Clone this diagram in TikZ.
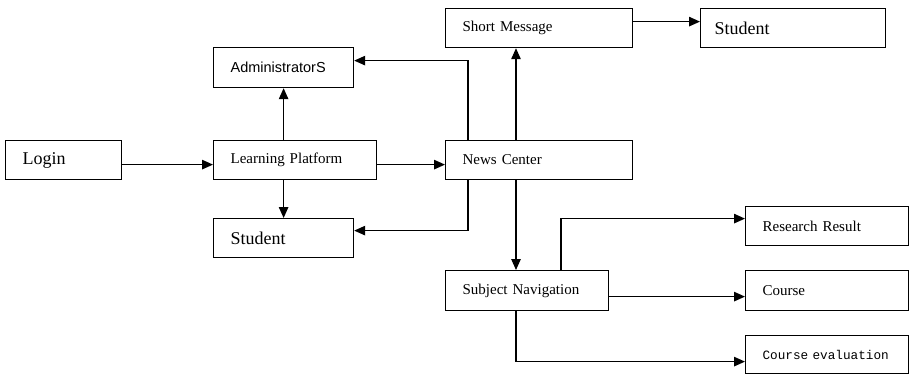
\documentclass[tikz,border=0pt]{standalone}
\usepackage{fontspec}
\setmainfont{Liberation Serif}
\newfontfamily\sansf{Liberation Sans}
\newfontfamily\monof{Liberation Mono}
\usetikzlibrary{arrows.meta}
\tikzset{
  box/.style={draw, line width=1.2bp, rectangle, anchor=north west, inner xsep=17bp, inner ysep=0bp, align=left, font=\fontsize{15bp}{18bp}\selectfont},
  big/.style={font=\fontsize{18bp}{21bp}\selectfont},
  arr/.style={line width=1.2bp, -{Triangle[length=11bp,width=9.5bp]}}
}
\begin{document}
\begin{tikzpicture}[x=1bp,y=-1bp]
\useasboundingbox (0,0) rectangle (910,374);
\node[box,big, minimum width=116bp, minimum height=39bp, text width=82bp] (login) at (5,140) {Login};
\node[box, minimum width=163bp, minimum height=39bp, text width=129bp] (lp) at (213,140) {Learning Platform};
\node[box, font=\sansf\fontsize{14.5bp}{17bp}\selectfont, minimum width=140bp, minimum height=40bp, text width=106bp] (admin) at (213,47) {AdministratorS};
\node[box,big, minimum width=140bp, minimum height=39bp, text width=106bp] (stl) at (213,218) {Student};
\node[box, minimum width=187bp, minimum height=39bp, text width=153bp] (sm) at (445,8) {Short Message};
\node[box,big, minimum width=185bp, minimum height=39bp, text width=157bp, inner xsep=14bp] (str) at (700,8) {Student};
\node[box, minimum width=187bp, minimum height=39bp, text width=153bp] (nc) at (445,140) {News Center};
\node[box, minimum width=163bp, minimum height=40bp, text width=129bp] (sn) at (445,270) {Subject Navigation};
\node[box, minimum width=163bp, minimum height=39bp, text width=129bp] (rr) at (745,206) {Research Result};
\node[box, minimum width=163bp, minimum height=40bp, text width=129bp] (course) at (745,270) {Course};
\node[box, font=\monof\fontsize{12.7bp}{15bp}\selectfont, minimum width=163bp, minimum height=38bp, text width=129bp] (ce) at (745,335) {Course evaluation};

\draw[arr] ([yshift=-4.5bp]login.east) -- ([yshift=-4.5bp]lp.west);
\draw[arr] (admin.south |- lp.north) -- (admin.south);
\draw[arr] (stl.north |- lp.south) -- (stl.north);
\draw[arr] ([yshift=-4.5bp]lp.east) -- ([yshift=-4.5bp]nc.west);
\draw[arr] ([xshift=23bp]nc.north west) |- ([yshift=7bp]admin.east);
\draw[arr] ([xshift=23bp]nc.south west) |- ([yshift=7.5bp]stl.east);
\draw[arr] ([xshift=71bp]nc.north west) -- ([xshift=71bp]sm.south west);
\draw[arr] ([yshift=6.5bp]sm.east) -- ([yshift=6.5bp]str.west);
\draw[arr] ([xshift=71bp]nc.south west) -- ([xshift=71bp]sn.north west);
\draw[arr] ([xshift=116bp]sn.north west) |- ([yshift=7.5bp]rr.west);
\draw[arr] ([yshift=-6bp]sn.east) -- ([yshift=-6bp]course.west);
\draw[arr] ([xshift=71bp]sn.south west) |- ([yshift=-7bp]ce.west);
\end{tikzpicture}
\end{document}
